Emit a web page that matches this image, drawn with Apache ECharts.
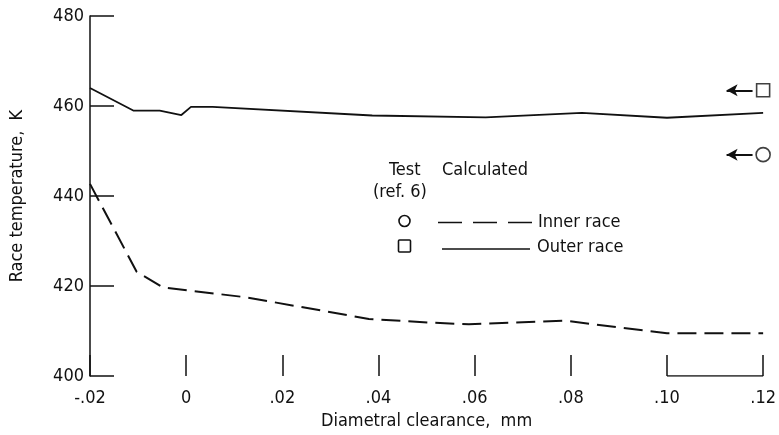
<!DOCTYPE html>
<html>
<head>
<meta charset="utf-8">
<script src="https://cdn.jsdelivr.net/npm/echarts@6/dist/echarts.min.js"></script>
<style>
  html, body { margin: 0; padding: 0; background: #fff; }
  #chart { width: 779px; height: 435px; }
</style>
</head>
<body>
<div id="chart"></div>
<script>
// Calculated race temperatures versus diametral clearance
const outerClearance = [-0.02, -0.011, -0.0055, -0.001, 0.001, 0.0055, 0.0387, 0.0623, 0.0823, 0.100, 0.12];
const outerTemp      = [464.0, 459.0, 459.0, 458.0, 459.8, 459.8, 457.9, 457.5, 458.5, 457.4, 458.5];

const innerClearance = [-0.02, -0.0103, -0.0048, 0.0125, 0.038, 0.0505, 0.0588, 0.0789, 0.100, 0.12];
const innerTemp      = [442.7, 423.2, 419.7, 417.5, 412.7, 411.9, 411.5, 412.3, 409.5, 409.5];

// Measured values (ref. 6)
const testClearance = 0.12;
const testOuter = 463.5;
const testInner = 449.2;

// Bracket along the base between the last two clearance ticks
const bracketClearance = [0.10, 0.12];
const bracketTemp = [400, 400];

const xTickLabels = ['-.02', '0', '.02', '.04', '.06', '.08', '.10', '.12'];
const yTickLabels = ['400', '420', '440', '460', '480'];

const FONT = '"DejaVu Sans Condensed", "Liberation Sans Narrow", "Liberation Sans", sans-serif';
const FS = 18;
const INK = '#111';

const zip = (xs, ys) => xs.map((x, i) => [x, ys[i]]);

const chart = echarts.init(document.getElementById('chart'), null, { renderer: 'canvas' });

const arrowLine = (v) => [[
  { coord: [testClearance - 0.0076, v] },
  { coord: [testClearance - 0.0022, v] }
]];

chart.setOption({
  backgroundColor: '#fff',
  animation: false,
  grid: { left: 90, right: 14, top: 16, bottom: 53 },
  xAxis: {
    type: 'value',
    min: -0.02, max: 0.12, interval: 0.02,
    name: 'Diametral clearance,  mm',
    nameLocation: 'middle',
    nameGap: 31,
    nameTextStyle: { fontFamily: FONT, fontSize: FS, color: INK },
    axisLine: { show: false, onZero: false },
    axisTick: { show: true, inside: true, length: 21, lineStyle: { color: INK, width: 1.5 } },
    splitLine: { show: false },
    axisLabel: {
      margin: 13,
      fontFamily: FONT, fontSize: FS, color: INK,
      formatter: (v) => xTickLabels[Math.round((v + 0.02) / 0.02)]
    }
  },
  yAxis: {
    type: 'value',
    min: 400, max: 480, interval: 20,
    name: 'Race temperature,  K',
    nameLocation: 'middle',
    nameGap: 64,
    nameRotate: 90,
    nameTextStyle: { fontFamily: FONT, fontSize: FS, color: INK },
    axisLine: { show: true, onZero: false, lineStyle: { color: INK, width: 1.5 } },
    axisTick: { show: true, inside: true, length: 24, lineStyle: { color: INK, width: 1.5 } },
    splitLine: { show: false },
    axisLabel: {
      margin: 6,
      fontFamily: FONT, fontSize: FS, color: INK,
      formatter: (v) => yTickLabels[Math.round((v - 400) / 20)]
    }
  },
  series: [
    {
      name: 'Outer race',
      type: 'line',
      data: zip(outerClearance, outerTemp),
      showSymbol: false,
      lineStyle: { color: INK, width: 1.8 }
    },
    {
      name: 'Inner race',
      type: 'line',
      data: zip(innerClearance, innerTemp),
      showSymbol: false,
      lineStyle: { color: INK, width: 2, type: [19, 8] }
    },
    {
      name: 'bracket',
      type: 'line',
      data: zip(bracketClearance, bracketTemp),
      showSymbol: false,
      lineStyle: { color: INK, width: 1.5 }
    },
    {
      name: 'Test outer',
      type: 'scatter',
      data: [[testClearance, testOuter]],
      symbol: 'rect',
      symbolSize: 13,
      itemStyle: { color: '#fff', borderColor: INK, borderWidth: 1.6 },
      markLine: {
        silent: true,
        symbol: ['arrow', 'none'],
        symbolSize: [9, 11],
        label: { show: false },
        lineStyle: { color: INK, width: 2, type: 'solid' },
        data: arrowLine(testOuter)
      }
    },
    {
      name: 'Test inner',
      type: 'scatter',
      data: [[testClearance, testInner]],
      symbol: 'circle',
      symbolSize: 14,
      itemStyle: { color: '#fff', borderColor: INK, borderWidth: 1.6 },
      markLine: {
        silent: true,
        symbol: ['arrow', 'none'],
        symbolSize: [9, 11],
        label: { show: false },
        lineStyle: { color: INK, width: 2, type: 'solid' },
        data: arrowLine(testInner)
      }
    }
  ],
  graphic: [
    { type: 'text', left: 389, top: 161, style: { text: 'Test', font: FS + 'px ' + FONT, fill: INK } },
    { type: 'text', left: 442, top: 161, style: { text: 'Calculated', font: FS + 'px ' + FONT, fill: INK } },
    { type: 'text', left: 373, top: 183, style: { text: '(ref. 6)', font: FS + 'px ' + FONT, fill: INK } },
    { type: 'circle', shape: { cx: 404.5, cy: 221, r: 5.5 }, style: { fill: 'none', stroke: INK, lineWidth: 1.6 } },
    { type: 'line', shape: { x1: 438, y1: 222.5, x2: 532, y2: 222.5 }, style: { stroke: INK, lineWidth: 1.6, lineDash: [24, 11] } },
    { type: 'text', left: 538, top: 213, style: { text: 'Inner race', font: FS + 'px ' + FONT, fill: INK } },
    { type: 'rect', shape: { x: 398.5, y: 240, width: 12, height: 12, r: 1 }, style: { fill: 'none', stroke: INK, lineWidth: 1.6 } },
    { type: 'line', shape: { x1: 442, y1: 249, x2: 530, y2: 249 }, style: { stroke: INK, lineWidth: 1.6 } },
    { type: 'text', left: 537, top: 238, style: { text: 'Outer race', font: FS + 'px ' + FONT, fill: INK } }
  ]
});
</script>
</body>
</html>
